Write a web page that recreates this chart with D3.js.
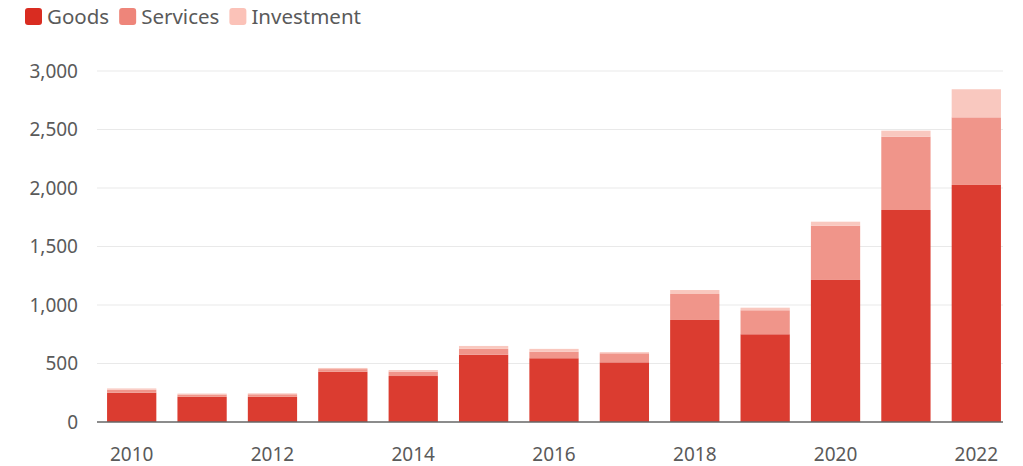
<!DOCTYPE html>
<html>
<head>
<meta charset="utf-8">
<script src="https://cdn.jsdelivr.net/npm/d3@7"></script>
<style>
  body { margin: 0; background: #fff; }
  text { font-family: "Noto Sans", Lato, sans-serif; }
</style>
</head>
<body>
<div id="chart"></div>
<script>
// data
var years = [2010, 2011, 2012, 2013, 2014, 2015, 2016, 2017, 2018, 2019, 2020, 2021, 2022];
var goods      = [250, 215, 215, 430, 393, 575, 545, 510, 872, 750, 1214, 1812, 2026];
var services   = [25, 20, 22, 22, 38, 50, 55, 77, 222, 205, 464, 627, 578];
var investment = [12, 8, 8, 10, 13, 25, 25, 10, 34, 22, 34, 51, 240];
var seriesNames = ["Goods", "Services", "Investment"];
var yTicks = [0, 500, 1000, 1500, 2000, 2500, 3000];
var xTickYears = [2010, 2012, 2014, 2016, 2018, 2020, 2022];

var barColors = ["#db3c30", "#f0958a", "#f9c8bf"];
var legendColors = ["#d92c21", "#ee857a", "#fbc2b8"];

var width = 1023, height = 466;

var svg = d3.select("#chart").append("svg")
    .attr("width", width)
    .attr("height", height);

// scales
var x = d3.scaleBand()
    .domain(years)
    .range([96.5, 1011.5])
    .paddingInner(0.3)
    .paddingOuter(0.15);

var y = d3.scaleLinear()
    .domain([0, 3000])
    .range([422, 71]);

// build stacked table
var table = years.map(function(yr, i) {
  return { year: yr, Goods: goods[i], Services: services[i], Investment: investment[i] };
});
var stack = d3.stack().keys(seriesNames)(table);

// gridlines
svg.append("g")
  .selectAll("line")
  .data(yTicks.filter(function(d) { return d > 0; }))
  .enter().append("line")
    .attr("x1", 97)
    .attr("x2", 1003)
    .attr("y1", function(d) { return y(d); })
    .attr("y2", function(d) { return y(d); })
    .attr("stroke", "#e9e9e9")
    .attr("stroke-width", 1.2);

// y labels
var yAxis = svg.append("g")
    .attr("transform", "translate(97,0)")
    .call(d3.axisLeft(y).tickValues(yTicks).tickSize(0).tickPadding(19)
      .tickFormat(d3.format(",")));
yAxis.select(".domain").remove();
yAxis.selectAll("text")
    .attr("fill", "#5a5a5a")
    .style("font-size", "19px");

// bars
svg.append("g")
  .selectAll("g")
  .data(stack)
  .enter().append("g")
    .attr("fill", function(d, i) { return barColors[i]; })
  .selectAll("rect")
  .data(function(d) { return d; })
  .enter().append("rect")
    .attr("x", function(d) { return x(d.data.year); })
    .attr("width", x.bandwidth())
    .attr("y", function(d) { return y(d[1]); })
    .attr("height", function(d) { return y(d[0]) - y(d[1]); });

// baseline
svg.append("line")
    .attr("x1", 97)
    .attr("x2", 1003)
    .attr("y1", y(0))
    .attr("y2", y(0))
    .attr("stroke", "#666")
    .attr("stroke-width", 1.5);

// x labels
var xAxis = svg.append("g")
    .attr("transform", "translate(0," + y(0) + ")")
    .call(d3.axisBottom(x).tickValues(xTickYears).tickSize(0).tickPadding(26));
xAxis.select(".domain").remove();
xAxis.selectAll("text")
    .attr("fill", "#5a5a5a")
    .style("font-size", "19px");

// legend
var legend = svg.append("g").attr("transform", "translate(25,8)");
var lx = 0;
seriesNames.forEach(function(name, i) {
  var g = legend.append("g").attr("transform", "translate(" + lx + ",0)");
  g.append("rect")
      .attr("width", 17)
      .attr("height", 17)
      .attr("rx", 3)
      .attr("fill", legendColors[i]);
  var t = g.append("text")
      .attr("x", 22)
      .attr("y", 16)
      .attr("fill", "#5a5a5a")
      .style("font-size", "20.5px")
      .text(name);
  lx += 22 + t.node().getComputedTextLength() + 10;
});
</script>
</body>
</html>
